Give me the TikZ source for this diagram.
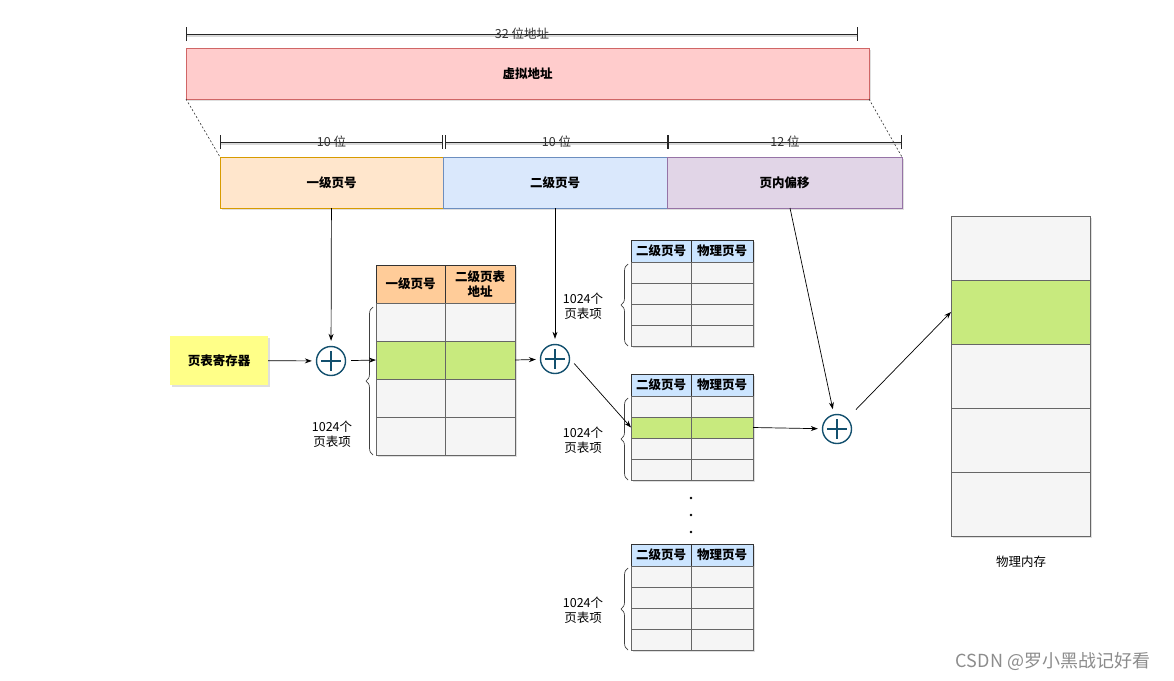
\documentclass[tikz,border=0pt]{standalone}
\usepackage{fontspec}
\setmainfont{Noto Sans CJK SC}
\usetikzlibrary{arrows.meta, decorations.pathreplacing, shadows}

\definecolor{vfill}{HTML}{FFCCCC}
\definecolor{vline}{HTML}{D06666}
\definecolor{ofill}{HTML}{FFE6CC}
\definecolor{oline}{HTML}{D79B00}
\definecolor{bfill}{HTML}{DAE8FC}
\definecolor{bline}{HTML}{6C8EBF}
\definecolor{pfill}{HTML}{E1D5E7}
\definecolor{pline}{HTML}{9673A6}
\definecolor{regfill}{HTML}{FFFF88}
\definecolor{headorange}{HTML}{FFCC99}
\definecolor{headblue}{HTML}{CCE5FF}
\definecolor{cellfill}{HTML}{F5F5F5}
\definecolor{cellline}{HTML}{666666}
\definecolor{rowgreen}{HTML}{C8EA7E}
\definecolor{sumline}{HTML}{13506E}

\tikzset{
  lbl/.style={font=\fontsize{12.5}{15}\selectfont},
  boldlbl/.style={font=\bfseries\fontsize{12.5}{15}\selectfont},
  shade/.style={drop shadow={opacity=.25, shadow xshift=1.5pt, shadow yshift=-2pt}},
  field/.style={rectangle, draw, inner sep=0pt, outer sep=0pt, line width=0.8pt, boldlbl, shade},
  cell/.style={rectangle, draw=cellline, fill=cellfill, inner sep=0pt, outer sep=0pt, line width=0.8pt, shade},
  headcell/.style={cell, draw=black!80, boldlbl, align=center},
  sum/.style={circle, draw=sumline, line width=1.4pt, minimum size=29pt, inner sep=0pt,
    path picture={\draw[sumline, line width=1.4pt]
      (path picture bounding box.west) ++(4.5pt,0) -- ++(20pt,0)
      (path picture bounding box.north) ++(0,-4.5pt) -- ++(0,-20pt);}},
  arr/.style={-{Stealth[length=7pt,width=5pt]}, line width=0.7pt},
  dim/.style={{Bar[width=14pt]}-{Bar[width=14pt]}, line width=0.8pt, black!85,
    preaction={draw=black!15, line width=1.6pt, transform canvas={yshift=-2pt}, -}},
  dimlbl/.style={lbl, text=black!80, inner sep=0pt},
  brace/.style={decorate, decoration={brace, amplitude=7pt}, draw=black!75, line width=0.7pt},
}

\begin{document}
\begin{tikzpicture}[x=1pt, y=-1pt]
\useasboundingbox (0,0) rectangle (1174,680);

% virtual address and its fields
\coordinate (d0a) at (186,34);
\coordinate (d0b) at (858,34);
\draw[dim] (d0a) -- node[dimlbl] {32 位地址} (d0b);
\node[field, draw=vline, fill=vfill, minimum width=683pt, minimum height=51pt] (vaddr) at (527.5,73.5) {虚拟地址};

\coordinate (d1a) at (220,142);
\coordinate (d1b) at (443,142);
\coordinate (d2a) at (445,142);
\coordinate (d2b) at (668,142);
\coordinate (d3b) at (902,142);
\draw[dim] (d1a) -- node[dimlbl] {10 位} (d1b);
\draw[dim] (d2a) -- node[dimlbl] {10 位} (d2b);
\draw[dim] (d2b) -- node[dimlbl] {12 位} (d3b);

\node[field, draw=oline, fill=ofill, minimum width=223pt, minimum height=51pt] (f1) at (331.5,182.5) {一级页号};
\node[field, draw=bline, fill=bfill, minimum width=224pt, minimum height=51pt] (f2) at (555,182.5) {二级页号};
\node[field, draw=pline, fill=pfill, minimum width=235pt, minimum height=51pt] (f3) at (784.5,182.5) {页内偏移};

\draw[black!80, dash pattern=on 2pt off 2pt, line width=0.6pt] (vaddr.south west) -- (f1.north west);
\draw[black!80, dash pattern=on 2pt off 2pt, line width=0.6pt] (vaddr.south east) -- (f3.north east);

% page table register
\node[rectangle, fill=regfill, boldlbl, minimum width=98pt, minimum height=49pt, shade] (reg) at (219,360.5) {页表寄存器};

% first level table
\node[headcell, fill=headorange, minimum width=69pt, minimum height=38pt] (t1-h-a) at (410.5,284) {一级页号};
\node[headcell, fill=headorange, minimum width=70pt, minimum height=38pt] (t1-h-b) at (480,284) {二级页表\\地址};
\foreach \i/\y/\c in {1/322/cellfill, 2/360/rowgreen, 3/398/cellfill, 4/436/cellfill} {
  \node[cell, fill=\c, minimum width=69pt, minimum height=38pt] (t1-\i-a) at (410.5,\y) {};
  \node[cell, fill=\c, minimum width=70pt, minimum height=38pt] (t1-\i-b) at (480,\y) {};
}
\draw[brace] (373,455) -- (373,307);
\node[lbl, align=center] (n1) at (332,434) {1024个\\页表项};

% second level tables
\foreach \t/\top/\g in {a/240/0, b/374/2, c/544/0} {
  \node[headcell, fill=headblue, minimum width=60pt, minimum height=22pt] (t2\t-h-a) at (661,{\top+11}) {二级页号};
  \node[headcell, fill=headblue, minimum width=62pt, minimum height=22pt] (t2\t-h-b) at (722,{\top+11}) {物理页号};
  \foreach \i in {1,...,4} {
    \ifnum\i=\g \def\c{rowgreen}\else \def\c{cellfill}\fi
    \node[cell, fill=\c, minimum width=60pt, minimum height=21pt] (t2\t-\i-a) at (661,{\top+11.5+21*\i}) {};
    \node[cell, fill=\c, minimum width=62pt, minimum height=21pt] (t2\t-\i-b) at (722,{\top+11.5+21*\i}) {};
  }
  \draw[brace] (628,{\top+106}) -- (628,{\top+24});
  \node[lbl, align=center] (n2\t) at (583,{\top+66}) {1024个\\页表项};
}
\foreach \y in {498,515,532}
  \fill (691,\y) circle (1.3pt);

% physical memory
\foreach \i/\y/\c in {1/248/cellfill, 2/312/rowgreen, 3/376/cellfill, 4/440/cellfill, 5/504/cellfill}
  \node[cell, fill=\c, minimum width=139pt, minimum height=64pt] (mem-\i) at (1020.5,\y) {};
\node[lbl] (memlbl) at (1021,562) {物理内存};

% adders
\node[sum] (c1) at (331,361) {};
\node[sum] (c2) at (555,359) {};
\node[sum] (c3) at (837,429) {};

\draw[arr, shorten >=4pt] (reg) -- (c1);
\draw[arr, shorten >=5pt] (f1) -- (c1);
\draw[arr, shorten <=5pt] (c1) -- (t1-2-a.west);
\draw[arr, shorten >=4pt] (t1-2-b.east) -- (c2);
\draw[arr, shorten >=5pt] (f2) -- (c2);
\draw[arr, shorten <=6pt] (c2.east) -- (t2b-2-a.west);
\draw[arr, shorten >=4pt] (t2b-2-b.east) -- (c3);
\draw[arr, shorten >=5pt] ([xshift=5.5pt]f3.south) -- (c3);
\draw[arr, shorten <=12pt] (c3) -- (mem-2.west);

\node[font=\fontsize{18}{20}\selectfont, text=black!45] (mark) at (1053,661) {CSDN @罗小黑战记好看};
\end{tikzpicture}
\end{document}
